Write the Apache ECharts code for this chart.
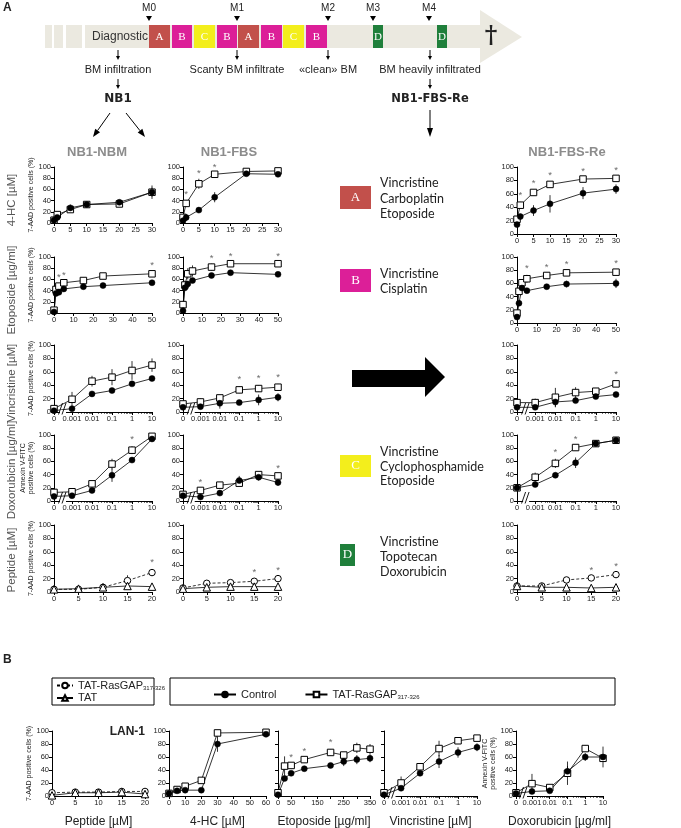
<!DOCTYPE html>
<html><head><meta charset="utf-8">
<script src="https://cdn.jsdelivr.net/npm/echarts@6/dist/echarts.min.js"></script>
<style>html,body{margin:0;padding:0;background:#fff}#c{width:681px;height:828px}</style>
</head><body><div id="c"></div>
<script>
// ---------------- DATA ----------------
const xHC = [0, 1, 5, 10, 20, 30];
const xEto = [0, 1, 2.5, 5, 15, 25, 50];
const xLog = [0, 0.001, 0.01, 0.1, 1, 10];
const xPep = [0, 5, 10, 15, 20];
const xHC_B = [0, 5, 10, 20, 30, 60];
const xEto_B = [0, 25, 50, 100, 200, 250, 300, 350];
const logTickLabels = ['0', '0.001', '0.01', '0.1', '1', '10'];
const etoBTickLabels = [0, 50, 150, 250, 350];

// NB1-NBM
const nbm_hc_ctrl = [5, 10, 27, 33, 37, 55];   const nbm_hc_ctrl_e = [3, 2, 6, 3, 3, 12];
const nbm_hc_tat  = [5, 15, 24, 33, 34, 55];   const nbm_hc_tat_e  = [2, 4, 4, 3, 3, 8];
const nbm_hc_star = [];
const nbm_eto_ctrl = [2, 35, 37, 43, 47, 49, 54]; const nbm_eto_ctrl_e = [1, 3, 3, 3, 4, 3, 3];
const nbm_eto_tat  = [5, 42, 48, 54, 58, 66, 70]; const nbm_eto_tat_e  = [2, 5, 5, 4, 5, 5, 5];
const nbm_eto_star = [2.5, 5, 50];
const nbm_vin_ctrl = [2, 5, 27, 32, 42, 50];   const nbm_vin_ctrl_e = [1, 2, 3, 3, 3, 3];
const nbm_vin_tat  = [5, 19, 46, 52, 62, 70];  const nbm_vin_tat_e  = [2, 11, 8, 12, 14, 10];
const nbm_vin_star = [];
const nbm_dox_ctrl = [7, 8, 16, 39, 62, 94];   const nbm_dox_ctrl_e = [2, 2, 4, 10, 3, 2];
const nbm_dox_tat  = [13, 14, 26, 56, 77, 98]; const nbm_dox_tat_e  = [2, 2, 3, 8, 6, 2];
const nbm_dox_star = [1];
const nbm_pep_ras = [4, 4, 7, 17, 29];  const nbm_pep_ras_e = [2, 2, 2, 8, 5];
const nbm_pep_tat = [4, 5, 7, 9, 8];    const nbm_pep_tat_e = [1, 2, 2, 2, 2];
const nbm_pep_star = [20];

// NB1-FBS
const fbs_hc_ctrl = [4, 10, 23, 46, 88, 87];   const fbs_hc_ctrl_e = [2, 2, 3, 9, 3, 4];
const fbs_hc_tat  = [10, 35, 70, 87, 92, 93];  const fbs_hc_tat_e  = [3, 6, 9, 3, 2, 2];
const fbs_hc_star = [1, 5, 10];
const fbs_eto_ctrl = [4, 45, 52, 58, 67, 72, 69]; const fbs_eto_ctrl_e = [3, 5, 3, 3, 4, 4, 4];
const fbs_eto_tat  = [15, 50, 70, 75, 82, 88, 88]; const fbs_eto_tat_e = [3, 8, 10, 10, 6, 3, 3];
const fbs_eto_star = [15, 25, 50];
const fbs_vin_ctrl = [7, 8, 13, 14, 18, 22];   const fbs_vin_ctrl_e = [2, 3, 8, 3, 8, 6];
const fbs_vin_tat  = [12, 15, 21, 33, 35, 37]; const fbs_vin_tat_e  = [3, 5, 3, 5, 5, 5];
const fbs_vin_star = [0.1, 1, 10];
const fbs_dox_ctrl = [8, 6, 12, 31, 36, 28];   const fbs_dox_ctrl_e = [2, 2, 3, 7, 5, 5];
const fbs_dox_tat  = [10, 16, 24, 27, 40, 38]; const fbs_dox_tat_e  = [2, 2, 2, 3, 2, 2];
const fbs_dox_star = [0.001, 10];
const fbs_pep_ras = [6, 13, 14, 16, 20]; const fbs_pep_ras_e = [1, 2, 2, 3, 3];
const fbs_pep_tat = [5, 7, 8, 8, 8];     const fbs_pep_tat_e = [1, 2, 3, 2, 2];
const fbs_pep_star = [15, 20];

// NB1-FBS-Re
const re_hc_ctrl = [14, 26, 35, 45, 61, 67];   const re_hc_ctrl_e = [3, 4, 8, 13, 9, 7];
const re_hc_tat  = [22, 43, 62, 74, 82, 83];   const re_hc_tat_e  = [3, 5, 4, 3, 2, 2];
const re_hc_star = [1, 5, 10, 20, 30];
const re_eto_ctrl = [9, 30, 53, 49, 55, 59, 60]; const re_eto_ctrl_e = [3, 4, 4, 3, 3, 5, 7];
const re_eto_tat  = [15, 48, 61, 67, 72, 76, 77]; const re_eto_tat_e = [3, 5, 5, 6, 3, 3, 3];
const re_eto_star = [5, 15, 25, 50];
const re_vin_ctrl = [7, 7, 15, 17, 23, 26];    const re_vin_ctrl_e = [2, 2, 8, 3, 3, 3];
const re_vin_tat  = [14, 14, 22, 29, 31, 42];  const re_vin_tat_e  = [2, 6, 14, 8, 3, 4];
const re_vin_star = [10];
const re_dox_ctrl = [20, 25, 39, 58, 87, 92];  const re_dox_ctrl_e = [2, 3, 4, 8, 2, 2];
const re_dox_tat  = [20, 36, 57, 81, 87, 92];  const re_dox_tat_e  = [2, 7, 7, 3, 2, 2];
const re_dox_star = [0.01, 0.1];
const re_pep_ras = [9, 9, 18, 21, 26];  const re_pep_ras_e = [2, 2, 2, 2, 2];
const re_pep_tat = [9, 7, 7, 6, 7];     const re_pep_tat_e = [1, 1, 1, 1, 1];
const re_pep_star = [15, 20];

// LAN-1 (panel B)
const lan_pep_ras = [5, 6, 6, 7, 7];     const lan_pep_ras_e = [1, 1, 1, 1, 1];
const lan_pep_tat = [1, 5, 5, 6, 3];     const lan_pep_tat_e = [1, 1, 1, 1, 1];
const lan_hc_ctrl = [4, 8, 9, 9, 80, 95];   const lan_hc_ctrl_e = [1, 2, 2, 2, 12, 2];
const lan_hc_tat  = [4, 10, 15, 24, 97, 98]; const lan_hc_tat_e = [1, 2, 3, 4, 2, 1];
const lan_eto_ctrl = [2, 27, 35, 42, 47, 53, 56, 58]; const lan_eto_ctrl_e = [1, 2, 2, 2, 3, 7, 7, 6];
const lan_eto_tat  = [5, 46, 47, 56, 67, 63, 74, 72]; const lan_eto_tat_e  = [2, 15, 3, 3, 5, 3, 8, 8];
const lan_eto_star = [50, 100, 200];
const lan_vin_ctrl = [2, 12, 35, 53, 67, 75];  const lan_vin_ctrl_e = [1, 4, 4, 10, 8, 6];
const lan_vin_tat  = [5, 20, 45, 73, 85, 89];  const lan_vin_tat_e  = [2, 10, 5, 12, 4, 3];
const lan_dox_ctrl = [4, 7, 8, 38, 60, 60];    const lan_dox_ctrl_e = [1, 2, 2, 8, 6, 16];
const lan_dox_tat  = [5, 19, 13, 35, 73, 58];  const lan_dox_tat_e  = [2, 15, 3, 18, 5, 4];

// ---------------- BUILD ----------------
const F = 'Liberation Sans, Arial, sans-serif';
const ZERO = -0.9;
const lp = v => v === 0 ? ZERO : Math.log10(v) + 3;
const logPos = [ZERO, 0, 1, 2, 3, 4];
const minorPos = [];
for (let d = 0; d < 4; d++) for (let k = 2; k < 10; k++) minorPos.push(d + Math.log10(k));

const grids = [], xAxes = [], yAxes = [], series = [], logPanels = [];
const axLine = {show: true, onZero: false, lineStyle: {color: '#000', width: 1}};
const axTick = (extra) => Object.assign({show: true, inside: false, length: 3, lineStyle: {color: '#000', width: 1}}, extra || {});
const axLab = (extra) => Object.assign({fontSize: 7.5, color: '#222', fontFamily: F, margin: 3}, extra || {});

function errRender(params, api) {
  const x = api.value(0), y = api.value(1), e = api.value(2);
  const a = api.coord([x, y - e]), b = api.coord([x, y + e]);
  return {type: 'line', shape: {x1: a[0], y1: a[1], x2: b[0], y2: b[1]}, style: {stroke: '#000', lineWidth: 0.8}};
}
const styles = {
  ctrl:   {symbol: 'circle', symbolSize: 6, itemStyle: {color: '#000', borderColor: '#000', borderWidth: 0.5}, dash: 'solid'},
  tatras: {symbol: 'rect', symbolSize: 6.5, itemStyle: {color: '#fff', borderColor: '#000', borderWidth: 1}, dash: 'solid'},
  pepras: {symbol: 'circle', symbolSize: 6.5, itemStyle: {color: '#fff', borderColor: '#000', borderWidth: 1}, dash: [3, 2]},
  tat:    {symbol: 'triangle', symbolSize: 7.5, itemStyle: {color: '#fff', borderColor: '#000', borderWidth: 1}, dash: 'solid'}
};

function panel(o) {
  const gi = grids.length;
  grids.push({left: o.x0, top: o.y0, width: o.x1 - o.x0, height: o.y1 - o.y0, containLabel: false, outerBoundsMode: 'none', show: false});
  const xi = xAxes.length, yi = yAxes.length;
  const xName = o.xName ? {name: o.xName, nameLocation: 'middle', nameGap: 20, nameTextStyle: {fontSize: 12, color: '#222', fontFamily: F, verticalAlign: 'top'}} : {};
  if (o.log) {
    xAxes.push(Object.assign({gridIndex: gi, type: 'value', position: 'bottom', min: ZERO, max: 4, splitLine: {show: false}, axisLine: axLine,
      axisTick: axTick({customValues: logPos}),
      axisLabel: axLab({customValues: logPos, formatter: v => logTickLabels[logPos.findIndex(p => Math.abs(p - v) < 1e-6)]})}, xName));
    xAxes.push({gridIndex: gi, type: 'value', position: 'bottom', min: ZERO, max: 4, splitLine: {show: false}, axisLine: {show: false},
      axisLabel: {show: false}, axisTick: {show: true, length: 1.8, customValues: minorPos, lineStyle: {color: '#000', width: 0.7}}});
    logPanels.push({xi: xi, yi: yi});
  } else {
    const lab = o.xLabels ? axLab({customValues: o.xLabels}) : axLab();
    xAxes.push(Object.assign({gridIndex: gi, type: 'value', position: 'bottom', min: 0, max: o.xmax, interval: o.xint, splitLine: {show: false},
      axisLine: axLine, axisTick: axTick(), axisLabel: lab}, xName));
  }
  yAxes.push({gridIndex: gi, type: 'value', min: 0, max: 100, interval: 20, splitLine: {show: false}, axisLine: axLine, axisTick: axTick(),
    axisLabel: axLab({show: o.yLabels !== false}),
    name: o.yName || '', nameLocation: 'middle', nameRotate: 90, nameGap: o.yGap || 19,
    nameTextStyle: {fontSize: 7, color: '#222', fontFamily: F, lineHeight: 8}});
  const tx = x => o.log ? lp(x) : x;
  o.sets.forEach(s => {
    const d = o.xs.map((x, i) => [tx(x), s.v[i], s.e ? s.e[i] : 0]);
    series.push({type: 'custom', xAxisIndex: xi, yAxisIndex: yi, renderItem: errRender, data: d, z: 1, silent: true, clip: false, animation: false});
    const st = styles[s.k];
    series.push({type: 'line', name: s.k, xAxisIndex: xi, yAxisIndex: yi, data: d.map(p => [p[0], p[1]]),
      symbol: st.symbol, symbolSize: st.symbolSize, showSymbol: true, itemStyle: st.itemStyle,
      lineStyle: {color: '#000', width: 0.8, type: st.dash}, z: 3, silent: true, animation: false, clip: false});
  });
  if (o.stars && o.stars.length) {
    const d = o.stars.map(sx => {
      const i = o.xs.indexOf(sx);
      let top = 0;
      o.sets.forEach(s => { top = Math.max(top, s.v[i] + (s.e ? s.e[i] : 0)); });
      return [tx(sx), top + 10];
    });
    series.push({type: 'scatter', xAxisIndex: xi, yAxisIndex: yi, data: d, symbol: 'circle', symbolSize: 1,
      itemStyle: {color: 'rgba(0,0,0,0)'}, label: {show: true, formatter: '*', position: 'inside', fontSize: 9.5, color: '#444', fontFamily: F},
      z: 4, silent: true, animation: false, clip: false});
  }
}
const S = (k, v, e) => ({k: k, v: v, e: e});

// columns & rows
const C1 = [54, 152], C2 = [183, 278], C3 = [517, 616];
const YAAD = '7-AAD positive cells (%)', YANN = 'Annexin V-FITC\npositive cells (%)';
const cols = [
  {c: C1, hc: [167, 223], eto: [257, 313], d: {hcC: nbm_hc_ctrl, hcCe: nbm_hc_ctrl_e, hcT: nbm_hc_tat, hcTe: nbm_hc_tat_e, hcS: nbm_hc_star,
    etC: nbm_eto_ctrl, etCe: nbm_eto_ctrl_e, etT: nbm_eto_tat, etTe: nbm_eto_tat_e, etS: nbm_eto_star,
    viC: nbm_vin_ctrl, viCe: nbm_vin_ctrl_e, viT: nbm_vin_tat, viTe: nbm_vin_tat_e, viS: nbm_vin_star,
    doC: nbm_dox_ctrl, doCe: nbm_dox_ctrl_e, doT: nbm_dox_tat, doTe: nbm_dox_tat_e, doS: nbm_dox_star,
    peR: nbm_pep_ras, peRe: nbm_pep_ras_e, peT: nbm_pep_tat, peTe: nbm_pep_tat_e, peS: nbm_pep_star}, names: true},
  {c: C2, hc: [167, 223], eto: [257, 313], d: {hcC: fbs_hc_ctrl, hcCe: fbs_hc_ctrl_e, hcT: fbs_hc_tat, hcTe: fbs_hc_tat_e, hcS: fbs_hc_star,
    etC: fbs_eto_ctrl, etCe: fbs_eto_ctrl_e, etT: fbs_eto_tat, etTe: fbs_eto_tat_e, etS: fbs_eto_star,
    viC: fbs_vin_ctrl, viCe: fbs_vin_ctrl_e, viT: fbs_vin_tat, viTe: fbs_vin_tat_e, viS: fbs_vin_star,
    doC: fbs_dox_ctrl, doCe: fbs_dox_ctrl_e, doT: fbs_dox_tat, doTe: fbs_dox_tat_e, doS: fbs_dox_star,
    peR: fbs_pep_ras, peRe: fbs_pep_ras_e, peT: fbs_pep_tat, peTe: fbs_pep_tat_e, peS: fbs_pep_star}},
  {c: C3, hc: [167, 234], eto: [257, 323], d: {hcC: re_hc_ctrl, hcCe: re_hc_ctrl_e, hcT: re_hc_tat, hcTe: re_hc_tat_e, hcS: re_hc_star,
    etC: re_eto_ctrl, etCe: re_eto_ctrl_e, etT: re_eto_tat, etTe: re_eto_tat_e, etS: re_eto_star,
    viC: re_vin_ctrl, viCe: re_vin_ctrl_e, viT: re_vin_tat, viTe: re_vin_tat_e, viS: re_vin_star,
    doC: re_dox_ctrl, doCe: re_dox_ctrl_e, doT: re_dox_tat, doTe: re_dox_tat_e, doS: re_dox_star,
    peR: re_pep_ras, peRe: re_pep_ras_e, peT: re_pep_tat, peTe: re_pep_tat_e, peS: re_pep_star}}
];
cols.forEach(col => {
  const c = col.c, d = col.d, n = col.names;
  panel({x0: c[0], x1: c[1], y0: col.hc[0], y1: col.hc[1], xs: xHC, xmax: 30, xint: 5, yName: n ? YAAD : '',
    sets: [S('tatras', d.hcT, d.hcTe), S('ctrl', d.hcC, d.hcCe)], stars: d.hcS});
  panel({x0: c[0], x1: c[1], y0: col.eto[0], y1: col.eto[1], xs: xEto, xmax: 50, xint: 10, yName: n ? YAAD : '',
    sets: [S('tatras', d.etT, d.etTe), S('ctrl', d.etC, d.etCe)], stars: d.etS});
  panel({x0: c[0], x1: c[1], y0: 345, y1: 412, xs: xLog, log: true, yName: n ? YAAD : '',
    sets: [S('tatras', d.viT, d.viTe), S('ctrl', d.viC, d.viCe)], stars: d.viS});
  panel({x0: c[0], x1: c[1], y0: 435, y1: 501, xs: xLog, log: true, yName: n ? YANN : '', yGap: 17,
    sets: [S('tatras', d.doT, d.doTe), S('ctrl', d.doC, d.doCe)], stars: d.doS});
  panel({x0: c[0], x1: c[1], y0: 525, y1: 592, xs: xPep, xmax: 20, xint: 5, yName: n ? YAAD : '',
    sets: [S('pepras', d.peR, d.peRe), S('tat', d.peT, d.peTe)], stars: d.peS});
});
// Panel B
panel({x0: 52, x1: 145, y0: 731, y1: 796, xs: xPep, xmax: 20, xint: 5, yName: YAAD, xName: 'Peptide [µM]',
  sets: [S('pepras', lan_pep_ras, lan_pep_ras_e), S('tat', lan_pep_tat, lan_pep_tat_e)]});
panel({x0: 169, x1: 266, y0: 731, y1: 796, xs: xHC_B, xmax: 60, xint: 10, xName: '4-HC [µM]',
  sets: [S('tatras', lan_hc_tat, lan_hc_tat_e), S('ctrl', lan_hc_ctrl, lan_hc_ctrl_e)]});
panel({x0: 278, x1: 370, y0: 731, y1: 796, xs: xEto_B, xmax: 350, xint: 50, xLabels: etoBTickLabels, yLabels: false, xName: 'Etoposide [µg/ml]',
  sets: [S('tatras', lan_eto_tat, lan_eto_tat_e), S('ctrl', lan_eto_ctrl, lan_eto_ctrl_e)], stars: lan_eto_star});
panel({x0: 384, x1: 477, y0: 731, y1: 796, xs: xLog, log: true, yLabels: false, xName: 'Vincristine [µM]',
  sets: [S('tatras', lan_vin_tat, lan_vin_tat_e), S('ctrl', lan_vin_ctrl, lan_vin_ctrl_e)]});
panel({x0: 516, x1: 603, y0: 731, y1: 796, xs: xLog, log: true, yName: YANN, yGap: 17, xName: 'Doxorubicin [µg/ml]',
  sets: [S('tatras', lan_dox_tat, lan_dox_tat_e), S('ctrl', lan_dox_ctrl, lan_dox_ctrl_e)]});

// ---------------- GRAPHICS ----------------
const G = [];
const TXT = '#222';
function rect(x, y, w, h, fill, extra) { G.push({type: 'rect', z: 50, silent: true, shape: {x: x, y: y, width: w, height: h}, style: Object.assign({fill: fill}, extra || {})}); }
function text(x, y, t, opt, rot) {
  G.push({type: 'text', z: 60, silent: true, x: x, y: y, rotation: rot || 0,
    style: Object.assign({text: t, fill: TXT, font: '11px ' + F, textAlign: 'center', textVerticalAlign: 'middle', verticalAlign: 'middle'}, opt || {})});
}
function line(x1, y1, x2, y2, w, col) { G.push({type: 'line', z: 55, silent: true, shape: {x1: x1, y1: y1, x2: x2, y2: y2}, style: {stroke: col || '#000', lineWidth: w || 1}}); }
function poly(pts, fill) { G.push({type: 'polygon', z: 55, silent: true, shape: {points: pts}, style: {fill: fill || '#000'}}); }
function arrow(x1, y1, x2, y2, hl, hw) {
  hl = hl || 5; hw = hw || 2.5;
  const dx = x2 - x1, dy = y2 - y1, L = Math.hypot(dx, dy), ux = dx / L, uy = dy / L;
  const bx = x2 - ux * hl, by = y2 - uy * hl;
  line(x1, y1, bx, by, 1);
  poly([[x2, y2], [bx - uy * hw, by + ux * hw], [bx + uy * hw, by - ux * hw]]);
}
// Panel labels
text(3, 8, 'A', {font: 'bold 12px ' + F, textAlign: 'left'});
text(3, 660, 'B', {font: 'bold 12px ' + F, textAlign: 'left'});
// Timeline band
const BAND = '#ebe9e0';
rect(45, 25, 7, 23, BAND); rect(54, 25, 9, 23, BAND); rect(66, 25, 16, 23, BAND); rect(85, 25, 396, 23, BAND);
poly([[480, 10], [522, 37], [480, 63]], BAND);
const colA = '#c2504b', colB = '#dc1f98', colC = '#f3ee1c', colD = '#1f7f3b';
[[149, 21, colA, 'A'], [172, 20, colB, 'B'], [194, 21, colC, 'C'], [217, 20, colB, 'B'], [238, 21, colA, 'A'], [261, 21, colB, 'B'],
 [283, 21, colC, 'C'], [306, 21, colB, 'B'], [373, 10, colD, 'D'], [437, 10, colD, 'D']].forEach(b => {
  rect(b[0], 25, b[1], 23, b[2]);
  text(b[0] + b[1] / 2, 37, b[3], {fill: '#fff', font: '11px Liberation Serif, serif'});
});
text(120, 37, 'Diagnostic', {font: '12px ' + F, fill: '#333'});
text(491, 37, '†', {font: 'bold 24px DejaVu Serif, serif', fill: '#222'});
[[149, 'M0'], [237, 'M1'], [328, 'M2'], [373, 'M3'], [429, 'M4']].forEach(m => {
  text(m[0], 8, m[1], {font: '10px ' + F});
  poly([[m[0] - 3, 16], [m[0] + 3, 16], [m[0], 21]]);
});
[[118, 'BM infiltration'], [237, 'Scanty BM infiltrate'], [328, '«clean» BM'], [430, 'BM heavily infiltrated']].forEach(a => {
  arrow(a[0], 50, a[0], 60, 4, 2);
  text(a[0], 70, a[1], {font: '11px ' + F});
});
arrow(118, 79, 118, 89, 4, 2);
arrow(430, 79, 430, 89, 4, 2);
text(118, 99, 'NB1', {font: 'bold 12px DejaVu Sans, sans-serif'});
text(430, 99, 'NB1-FBS-Re', {font: 'bold 11.5px DejaVu Sans, sans-serif'});
arrow(110, 113, 93, 137, 8, 3);
arrow(126, 113, 145, 137, 8, 3);
arrow(430, 110, 430, 137, 9, 3);
// Column titles
text(97, 152, 'NB1-NBM', {font: 'bold 13px ' + F, fill: '#8c8c8c'});
text(229, 152, 'NB1-FBS', {font: 'bold 13px ' + F, fill: '#8c8c8c'});
text(567, 152, 'NB1-FBS-Re', {font: 'bold 13px ' + F, fill: '#8c8c8c'});
// Row labels
[[200, '4-HC [µM]'], [290, 'Etoposide [µg/ml]'], [383, 'Vincristine [µM]'], [470, 'Doxorubicin [µg/ml]'], [560, 'Peptide [µM]']].forEach(r => {
  text(12, r[0], r[1], {font: '11.5px ' + F, fill: '#555'}, Math.PI / 2);
});
// Drug legend
const LT = {font: '12.5px Lato, sans-serif', textAlign: 'left', fill: '#222'};
rect(340, 186, 31, 23, colA); text(355.5, 197.5, 'A', {fill: '#fff', font: '13px Liberation Serif, serif'});
text(380, 183, 'Vincristine', LT); text(380, 199, 'Carboplatin', LT); text(380, 214, 'Etoposide', LT);
rect(340, 269, 31, 23, colB); text(355.5, 280.5, 'B', {fill: '#fff', font: '13px Liberation Serif, serif'});
text(380, 274, 'Vincristine', LT); text(380, 289, 'Cisplatin', LT);
rect(340, 455, 31, 22, colC); text(355.5, 466, 'C', {fill: '#fff', font: '13px Liberation Serif, serif'});
text(380, 452, 'Vincristine', LT); text(380, 467, 'Cyclophosphamide', LT); text(380, 481, 'Etoposide', LT);
rect(340, 544, 15, 22, colD); text(347.5, 555, 'D', {fill: '#fff', font: '13px Liberation Serif, serif'});
text(380, 542, 'Vincristine', LT); text(380, 557, 'Topotecan', LT); text(380, 572, 'Doxorubicin', LT);
// Big arrow
poly([[352, 370], [425, 370], [425, 357], [445, 377], [425, 397], [425, 387], [352, 387]], '#000');
// LAN-1 label
text(145, 732, 'LAN-1', {font: 'bold 12px ' + F, textAlign: 'right'});
// Legend boxes (panel B)
rect(52, 678, 102, 27, 'none', {stroke: '#000', lineWidth: 1, fill: 'rgba(0,0,0,0)'});
rect(170, 678, 445, 27, 'none', {stroke: '#000', lineWidth: 1, fill: 'rgba(0,0,0,0)'});

const legendNames = {ctrl: 'Control', tatras: 'TAT-RasGAP', pepras: 'TAT-RasGAP', tat: 'TAT'};
const legendFmt = n => (n === 'tatras' || n === 'pepras') ? '{a|TAT-RasGAP}{s|317-326}' : '{a|' + legendNames[n] + '}';
const legRich = {a: {fontSize: 11, fontFamily: F, color: '#222'}, s: {fontSize: 6, fontFamily: F, color: '#222', padding: [6, 0, 0, 0]}};

const option = {
  animation: false,
  grid: grids, xAxis: xAxes, yAxis: yAxes, series: series,
  legend: [
    {data: ['pepras', 'tat'], orient: 'vertical', left: 54, top: 678, itemGap: 1, itemWidth: 16, itemHeight: 7, padding: [2, 2],
      selectedMode: false, formatter: legendFmt, textStyle: {rich: legRich}},
    {data: ['ctrl', 'tatras'], orient: 'horizontal', left: 208, top: 684, itemGap: 28, itemWidth: 22, itemHeight: 7,
      selectedMode: false, formatter: legendFmt, textStyle: {rich: legRich}}
  ]
};
const chart = echarts.init(document.getElementById('c'), null, {renderer: 'canvas'});
chart.setOption(option);
// axis break marks
logPanels.forEach(lpnl => {
  const x = chart.convertToPixel({xAxisIndex: lpnl.xi}, ZERO / 2);
  const y = chart.convertToPixel({yAxisIndex: lpnl.yi}, 0);
  G.push({type: 'rect', z: 70, silent: true, shape: {x: x - 3, y: y - 2, width: 6, height: 4}, style: {fill: '#fff'}});
  G.push({type: 'line', z: 71, silent: true, shape: {x1: x - 4.5, y1: y + 2.5, x2: x - 0.5, y2: y - 9}, style: {stroke: '#000', lineWidth: 0.9}});
  G.push({type: 'line', z: 71, silent: true, shape: {x1: x - 1, y1: y + 2.5, x2: x + 3, y2: y - 9}, style: {stroke: '#000', lineWidth: 0.9}});
});
chart.setOption({graphic: {elements: G}});
</script></body></html>
